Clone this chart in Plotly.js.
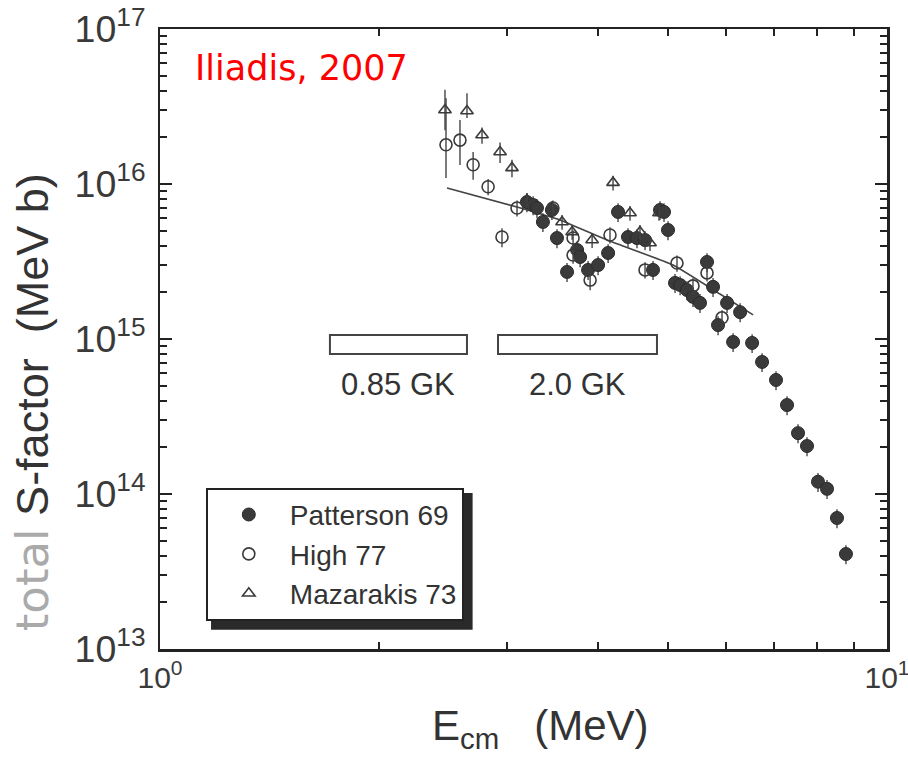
<!DOCTYPE html>
<html>
<head>
<meta charset="utf-8">
<script src="https://cdn.plot.ly/plotly-3.0.1.min.js"></script>
<style>
  html, body { margin: 0; padding: 0; background: #ffffff; }
  #chart { width: 908px; height: 770px; }
</style>
</head>
<body>
<div id="chart"></div>
<script>
// ---- data (E_cm in MeV, S-factor in MeV b) ----
const pattersonE = [3.197, 3.260, 3.300, 3.363, 3.460, 3.516, 3.630, 3.748, 3.783, 3.880,
  4.005, 4.134, 4.266, 4.403, 4.530, 4.647, 4.766, 4.873, 4.935, 4.998,
  5.110, 5.193, 5.307, 5.409, 5.531, 5.655, 5.764, 5.856, 6.026, 6.142,
  6.280, 6.523, 6.732, 7.036, 7.286, 7.544, 7.762, 8.037, 8.270, 8.535, 8.781];
const pattersonS = [7.65e15, 7.32e15, 7.00e15, 5.69e15, 6.80e15, 4.48e15, 2.71e15, 3.75e15, 3.38e15, 2.79e15,
  3.00e15, 3.59e15, 6.60e15, 4.55e15, 4.48e15, 4.35e15, 2.79e15, 6.80e15, 6.60e15, 5.05e15,
  2.30e15, 2.23e15, 2.07e15, 1.87e15, 1.71e15, 3.14e15, 2.17e15, 1.23e15, 1.71e15, 9.57e14,
  1.49e15, 9.43e14, 7.11e14, 5.44e14, 3.75e14, 2.47e14, 2.04e14, 1.20e14, 1.08e14, 7.00e13, 4.10e13];

const highE = [2.474, 2.586, 2.696, 2.827, 2.954, 3.098, 3.471, 3.700, 3.700, 3.905,
  4.159, 4.647, 5.142, 5.409, 5.655, 5.930];
const highS = [1.79e16, 1.92e16, 1.33e16, 9.6e15, 4.55e15, 7.00e15, 7.00e15, 4.48e15, 3.48e15, 2.40e15,
  4.69e15, 2.79e15, 3.09e15, 2.20e15, 2.67e15, 1.37e15];
const highRelUp   = [1.00, 0.35, 0.21, 0.12, 0.14, 0.12, 0.12, 0.12, 0.12, 0.14, 0.12, 0.12, 0.12, 0.12, 0.12, 0.12];
const highRelDown = [0.39, 0.31, 0.20, 0.12, 0.14, 0.12, 0.12, 0.12, 0.12, 0.14, 0.12, 0.12, 0.12, 0.12, 0.12, 0.12];

const mazE = [2.466, 2.644, 2.773, 2.936, 3.049, 3.197, 3.573, 3.689, 3.930, 4.199, 4.431, 4.573, 4.721, 4.857];
const mazS = [3.00e16, 2.96e16, 2.07e16, 1.61e16, 1.27e16, 7.88e15, 5.69e15, 4.90e15, 4.35e15, 1.02e16, 6.50e15, 4.90e15, 4.16e15, 6.50e15];
const mazRelUp   = [0.35, 0.30, 0.12, 0.15, 0.13, 0.11, 0.11, 0.11, 0.11, 0.11, 0.11, 0.11, 0.11, 0.11];
const mazRelDown = [0.26, 0.10, 0.12, 0.15, 0.13, 0.11, 0.11, 0.11, 0.11, 0.11, 0.11, 0.11, 0.11, 0.11];

const fitE = [2.482, 3.098, 3.549, 4.121, 5.077, 5.892, 6.544];
const fitS = [9.42e15, 7.10e15, 5.86e15, 4.35e15, 3.00e15, 1.95e15, 1.43e15];

// Gamow windows
const windowLabels = ['0.85 GK', '2.0 GK'];
const windowLo = [1.713, 2.917];
const windowHi = [2.644, 4.826];

const seriesNames = ['Patterson 69', 'High 77', 'Mazarakis 73'];

const xTickVals = [1, 10];
const xTickText = ['10<sup>0</sup>', '10<sup>1</sup>'];

// ---- styling ----
const ink = '#333333';
const axisFont = {family: 'Liberation Sans, Arial, sans-serif', size: 30, color: '#3a3a3a'};

const mul = (a, b) => a.map((v, i) => v * b[i]);

const traces = [
  {
    x: fitE, y: fitS, mode: 'lines', type: 'scatter', showlegend: false,
    line: {color: '#444444', width: 1.6, shape: 'spline', smoothing: 0.4},
    hoverinfo: 'skip'
  },
  {
    x: pattersonE, y: pattersonS, mode: 'markers', type: 'scatter', name: seriesNames[0],
    marker: {symbol: 'circle', size: 13, color: '#3a3a3a', line: {color: '#2a2a2a', width: 1}},
    error_y: {type: 'percent', value: 14, thickness: 1.3, width: 0, color: '#3a3a3a'}
  },
  {
    x: highE, y: highS, mode: 'markers', type: 'scatter', name: seriesNames[1],
    marker: {symbol: 'circle-open', size: 12, color: '#3a3a3a', line: {color: '#3a3a3a', width: 1.6}},
    error_y: {type: 'data', symmetric: false, array: mul(highS, highRelUp), arrayminus: mul(highS, highRelDown),
              thickness: 1.4, width: 0, color: '#444444'}
  },
  {
    x: mazE, y: mazS, mode: 'markers', type: 'scatter', name: seriesNames[2],
    marker: {symbol: 'triangle-up-open', size: 11, color: '#3a3a3a', line: {color: '#3a3a3a', width: 1.6}},
    error_y: {type: 'data', symmetric: false, array: mul(mazS, mazRelUp), arrayminus: mul(mazS, mazRelDown),
              thickness: 1.4, width: 0, color: '#444444'}
  }
];

const shapes = [];
const annotations = [];
for (let i = 0; i < windowLabels.length; i++) {
  shapes.push({
    type: 'rect', xref: 'x', yref: 'y',
    x0: windowLo[i], x1: windowHi[i], y0: 8.0e14, y1: 1.06e15,
    line: {color: '#444444', width: 2}, fillcolor: 'rgba(255,255,255,0)'
  });
  annotations.push({
    xref: 'x', yref: 'y',
    x: Math.log10(Math.sqrt(windowLo[i] * windowHi[i])), y: Math.log10(5.1e14),
    text: windowLabels[i], showarrow: false,
    font: {family: 'Liberation Sans, Arial, sans-serif', size: 31, color: ink}
  });
}

// legend shadow
shapes.push({
  type: 'rect', xref: 'paper', yref: 'paper', layer: 'above',
  x0: 0.0702, x1: 0.4300, y0: 0.031, y1: 0.2516,
  line: {width: 0}, fillcolor: '#2a2a2a'
});

annotations.push({
  xref: 'paper', yref: 'paper', x: 0.045, y: 0.937, xanchor: 'left', yanchor: 'middle',
  text: 'Iliadis, 2007', showarrow: false,
  font: {family: 'DejaVu Sans, sans-serif', size: 35, color: '#ff0000'}
});
annotations.push({
  xref: 'paper', yref: 'paper', x: -0.176, y: 0.398, xanchor: 'center', yanchor: 'middle',
  textangle: -90, showarrow: false,
  text: '<span style="color:#aaaaaa;font-family:DejaVu Sans">total</span> S-factor\u00a0 (MeV b)',
  font: {family: 'Liberation Sans, Arial, sans-serif', size: 45, color: '#333333'}
});
annotations.push({
  xref: 'paper', yref: 'paper', x: 0.523, y: -0.128, xanchor: 'center', yanchor: 'middle',
  showarrow: false,
  text: 'E<sub>cm</sub>\u00a0\u00a0 (MeV)',
  font: {family: 'Liberation Sans, Arial, sans-serif', size: 42, color: '#333333'}
});

const layout = {
  width: 908, height: 770,
  margin: {l: 160, r: 21, t: 29, b: 121},
  paper_bgcolor: '#ffffff', plot_bgcolor: '#ffffff',
  showlegend: true,
  legend: {
    x: 0.063, y: 0.26, xanchor: 'left', yanchor: 'top',
    bgcolor: '#ffffff', bordercolor: '#222222', borderwidth: 2,
    font: {family: 'Liberation Sans, Arial, sans-serif', size: 28, color: ink},
    itemwidth: 72, tracegroupgap: 0
  },
  xaxis: {
    type: 'log', range: [0, 1], tickmode: 'array', tickvals: xTickVals, ticktext: xTickText,
    ticklabeloverflow: 'allow',
    showgrid: false, zeroline: false, showline: true, linecolor: '#222222', linewidth: 2.5,
    mirror: 'allticks', ticks: 'inside', ticklen: 10, tickwidth: 2.5, tickcolor: '#222222',
    minor: {ticks: 'inside', ticklen: 7, tickwidth: 2, dtick: 'D1', tickcolor: '#222222', showgrid: false},
    tickfont: axisFont, ticklabelstandoff: 0
  },
  yaxis: {
    type: 'log', range: [13, 17], dtick: 1, exponentformat: 'power',
    showgrid: false, zeroline: false, showline: true, linecolor: '#222222', linewidth: 2.5,
    mirror: 'allticks', ticks: 'inside', ticklen: 12, tickwidth: 2.5, tickcolor: '#222222',
    minor: {ticks: 'inside', ticklen: 7, tickwidth: 2, dtick: 'D1', tickcolor: '#222222', showgrid: false},
    tickfont: axisFont, ticklabelstandoff: 6
  },
  shapes: shapes,
  annotations: annotations
};

Plotly.newPlot('chart', traces, layout, {displayModeBar: false, staticPlot: true});
</script>
</body>
</html>
